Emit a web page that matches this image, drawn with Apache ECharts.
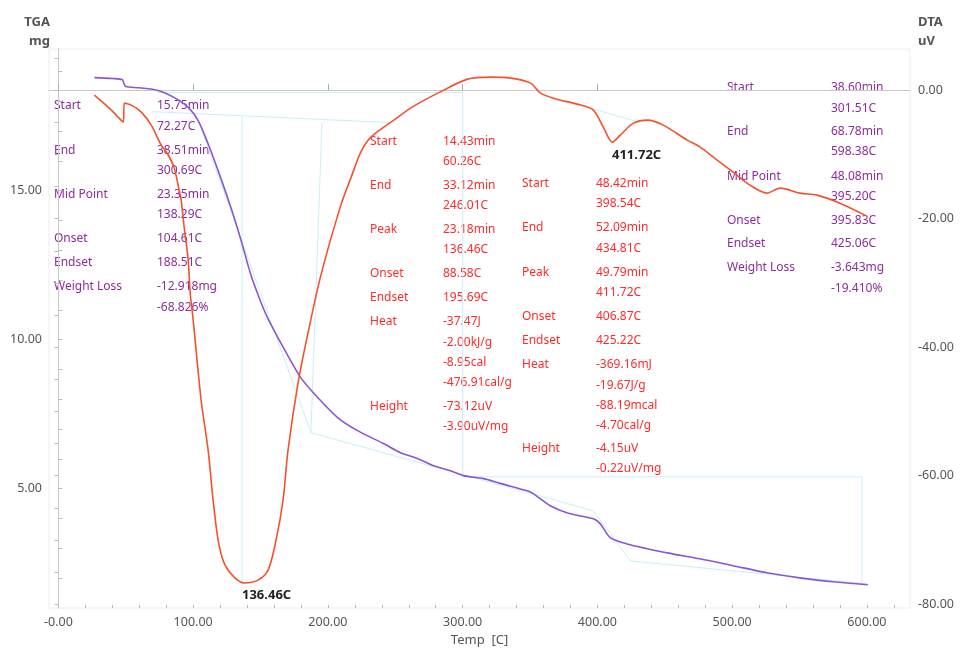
<!DOCTYPE html>
<html>
<head>
<meta charset="utf-8">
<title>TGA / DTA</title>
<script src="https://cdn.jsdelivr.net/npm/echarts@6/dist/echarts.min.js"></script>
<style>
  html, body { margin: 0; padding: 0; background: #fff; }
  #box { width: 961px; height: 650px; }
</style>
</head>
<body>
<div id="box"></div>
<script>
// TGA 曲线 (温度 C, 质量 mg)
const tgaTemp = [26.7, 40, 47.5, 48.5, 50, 60, 74, 86, 96.3, 103.7, 111, 118.5, 128, 135.6, 143, 150.4, 155.6, 167.4, 180, 192.6, 207.4, 222, 241.5, 254, 266.7, 278.5, 291, 300.7, 315.6, 328, 348, 352.6, 365, 377.8, 397, 402, 409.6, 422, 451.9, 476, 500.7, 526, 550, 574.8, 600.7];
const tgaMass = [18.79, 18.76, 18.72, 18.6, 18.49, 18.45, 18.36, 18.12, 17.79, 17.35, 16.58, 15.67, 14.43, 13.32, 12.15, 11.24, 10.7, 9.7, 8.72, 8.05, 7.38, 6.95, 6.51, 6.21, 6.01, 5.77, 5.6, 5.44, 5.34, 5.18, 4.93, 4.83, 4.43, 4.19, 3.99, 3.83, 3.36, 3.15, 2.85, 2.65, 2.42, 2.18, 2.01, 1.88, 1.78];

// DTA 曲线 (温度 C, 信号 uV)
const dtaTemp = [26.7, 39.3, 48.1, 48.9, 54.1, 61.5, 68.9, 76.3, 81.5, 85.9, 89.6, 91.1, 93.3, 96.3, 97.8, 100, 105.9, 111.1, 114.8, 118.5, 123, 130.4, 137.8, 148.1, 155.6, 161.5, 166.7, 170.4, 177.8, 185.2, 194.8, 209.6, 217, 224.4, 231.9, 248.9, 263.7, 285.9, 303.7, 320.7, 335.6, 350.4, 357.8, 367.4, 387.4, 397, 404.4, 411.1, 417, 426.7, 437, 448.9, 466.7, 476.3, 488.9, 500.7, 513.3, 525.9, 535.6, 550.4, 563, 580, 600];
const dtaSignal = [-0.78, -3.11, -4.98, -2.02, -2.33, -3.42, -5.45, -8.56, -10.1, -12.1, -15.6, -17.12, -21.32, -26.46, -31.6, -35.8, -48.25, -56.03, -63.81, -70.04, -73.62, -75.8, -76.7, -76.26, -74.71, -70.04, -63.81, -56.03, -45.6, -37.82, -28.8, -17.9, -13.7, -9.65, -7.32, -4.67, -2.49, 0, 1.71, 2.02, 1.87, 1.09, -0.47, -1.25, -2.33, -3.11, -5.76, -8.09, -7.0, -5.14, -4.67, -5.45, -7.78, -8.87, -10.9, -12.76, -14.79, -16.03, -15.25, -16.03, -16.34, -17.59, -19.61];

// 辅助线 (温度 C, 质量 mg)
const guideLines = [
  [[72.6, 18.29], [300, 18.29], [300, 5.4], [596.3, 5.4], [596.3, 1.81]],
  [[68.9, 17.65], [246.7, 17.28]],
  [[136.3, 17.48], [136.3, 1.81]],
  [[195.6, 17.28], [187.4, 6.88]],
  [[102.2, 17.55], [187.4, 6.88], [397, 4.26], [424.4, 2.58], [600, 1.81]],
  [[396.3, 17.75], [431.9, 17.28]]
];

// 刻度
const xMajorTicks = [0, 100, 200, 300, 400, 500, 600];
const xTickLabels = ['-0.00', '100.00', '200.00', '300.00', '400.00', '500.00', '600.00'];
const xMinorTicks = [0, 20, 40, 60, 80, 100, 120, 140, 160, 180, 200, 220, 240, 260, 280, 300, 320, 340, 360, 380, 400, 420, 440, 460, 480, 500, 520, 540, 560, 580, 600, 620];
const leftMajorTicks = [5, 10, 15];
const leftTickLabels = ['5.00', '10.00', '15.00'];
const leftMinorTicks = [2, 3, 4, 5, 6, 7, 8, 9, 10, 11, 12, 13, 14, 15, 16, 17, 18, 19];
const rightMajorTicks = [0, -20, -40, -60, -80];
const rightTickLabels = ['0.00', '-20.00', '-40.00', '-60.00', '-80.00'];
const rightMinorTicks = [5, 0, -5, -10, -15, -20, -25, -30, -35, -40, -45, -50, -55, -60, -65, -70, -75, -80];

// 轴标题
const leftAxisTitle = ['TGA', 'mg'];
const rightAxisTitle = ['DTA', 'uV'];
const xAxisTitle = 'Temp  [C]';

// 分析结果文字
const tgaStep1 = [['Start', '15.75min'], ['', '72.27C'], ['End', '38.51min'], ['', '300.69C'], ['Mid Point', '23.35min'], ['', '138.29C'], ['Onset', '104.61C'], ['Endset', '188.51C'], ['Weight Loss', '-12.918mg'], ['', '-68.826%']];
const tgaStep2 = [['Start', '38.60min'], ['', '301.51C'], ['End', '68.78min'], ['', '598.38C'], ['Mid Point', '48.08min'], ['', '395.20C'], ['Onset', '395.83C'], ['Endset', '425.06C'], ['Weight Loss', '-3.643mg'], ['', '-19.410%']];
const dtaPeak1 = [['Start', '14.43min'], ['', '60.26C'], ['End', '33.12min'], ['', '246.01C'], ['Peak', '23.18min'], ['', '136.46C'], ['Onset', '88.58C'], ['Endset', '195.69C'], ['Heat', '-37.47J'], ['', '-2.00kJ/g'], ['', '-8.95cal'], ['', '-476.91cal/g'], ['Height', '-73.12uV'], ['', '-3.90uV/mg']];
const dtaPeak2 = [['Start', '48.42min'], ['', '398.54C'], ['End', '52.09min'], ['', '434.81C'], ['Peak', '49.79min'], ['', '411.72C'], ['Onset', '406.87C'], ['Endset', '425.22C'], ['Heat', '-369.16mJ'], ['', '-19.67J/g'], ['', '-88.19mcal'], ['', '-4.70cal/g'], ['Height', '-4.15uV'], ['', '-0.22uV/mg']];
const peakLabels = ['136.46C', '411.72C'];

const FONT = '"Noto Sans", "DejaVu Sans", sans-serif';
const PURPLE_TEXT = '#8e2c9e';
const RED_TEXT = '#ff2b2b';

function zip(a, b) {
  return a.map((v, i) => [v, b[i]]);
}

function tickLabel(ticks, labels) {
  return function (v) {
    const i = ticks.findIndex(t => Math.abs(t - v) < 1e-6);
    return i >= 0 ? labels[i] : '';
  };
}

function txt(t, x, y, fill, font, align) {
  return {
    type: 'text', x: x, y: y, silent: true,
    style: { text: t, fill: fill, font: font, align: align || 'left', verticalAlign: 'middle' }
  };
}

// 文字块
function textBlock(rows, ys, xLabel, xValue, color) {
  const out = [];
  rows.forEach((r, i) => {
    if (r[0]) out.push(txt(r[0], xLabel, ys[i], color, '12px ' + FONT));
    if (r[1]) out.push(txt(r[1], xValue, ys[i], color, '12px ' + FONT));
  });
  return out;
}

function drawCharts() {
  const myCharts = echarts.init(document.getElementById('box'));

  const axisLineStyle = { color: '#c8c8c8', width: 1 };
  const labelStyle = { color: '#555', fontSize: 12.5, fontFamily: FONT };
  const titleFont = 'bold 13px ' + FONT;

  const guideSeries = guideLines.map(seg => ({
    type: 'line', xAxisIndex: 0, yAxisIndex: 0, data: seg,
    symbol: 'none', silent: true, z: 1,
    lineStyle: { color: '#c9eff7', width: 1 }
  }));

  const graphic = [
    txt(leftAxisTitle[0], 50, 22, '#555', titleFont, 'right'),
    txt(leftAxisTitle[1], 50, 41, '#555', titleFont, 'right'),
    txt(rightAxisTitle[0], 918, 22, '#555', titleFont, 'left'),
    txt(rightAxisTitle[1], 918, 41, '#555', titleFont, 'left'),
    txt(peakLabels[0], 242, 595, '#222', 'bold 13px ' + FONT),
    txt(peakLabels[1], 612, 155, '#222', 'bold 13px ' + FONT)
  ]
    .concat(textBlock(tgaStep1, [106, 127, 151, 171, 195, 215, 239, 263, 287, 308], 54, 157, PURPLE_TEXT))
    .concat(textBlock(tgaStep2, [88, 109, 132, 152, 177, 197, 221, 244, 268, 289], 727, 831, PURPLE_TEXT))
    .concat(textBlock(dtaPeak1, [142, 162, 186, 206, 230, 250, 274, 298, 322, 343, 363, 383, 407, 427], 370, 443, RED_TEXT))
    .concat(textBlock(dtaPeak2, [184, 204, 228, 249, 273, 293, 317, 341, 365, 386, 406, 426, 449, 469], 522, 596, RED_TEXT));

  const option = {
    backgroundColor: '#fff',
    animation: false,
    textStyle: { fontFamily: FONT },
    grid: {
      left: 49, right: 51, top: 49, bottom: 42,
      containLabel: false, outerBoundsMode: 'none',
      show: true, borderColor: '#ececec', borderWidth: 1
    },
    xAxis: [
      {
        type: 'value', min: -7, max: 632, position: 'bottom',
        name: xAxisTitle, nameLocation: 'middle', nameGap: 26,
        nameTextStyle: { color: '#555', fontSize: 13 },
        axisLine: { lineStyle: axisLineStyle },
        axisTick: { inside: true, length: 6, customValues: xMajorTicks, lineStyle: { color: '#aaa' } },
        axisLabel: { customValues: xMajorTicks, formatter: tickLabel(xMajorTicks, xTickLabels), margin: 8, ...labelStyle },
        splitLine: { show: false }
      },
      {
        type: 'value', min: -7, max: 632, position: 'bottom',
        axisLine: { show: false },
        axisTick: { inside: true, length: 3, customValues: xMinorTicks, lineStyle: { color: '#bbb' } },
        axisLabel: { show: false },
        splitLine: { show: false }
      }
    ],
    yAxis: [
      {
        type: 'value', min: 1, max: 19.75, position: 'left',
        axisLine: { show: true, lineStyle: axisLineStyle },
        axisTick: { inside: true, length: 4, customValues: leftMinorTicks, lineStyle: { color: '#bbb' } },
        axisLabel: { customValues: leftMajorTicks, formatter: tickLabel(leftMajorTicks, leftTickLabels), margin: 7, ...labelStyle },
        splitLine: { show: false }
      },
      {
        type: 'value', min: -80.6, max: 6.4, position: 'right',
        axisLine: { show: true, lineStyle: axisLineStyle },
        axisTick: { inside: true, length: 4, customValues: rightMinorTicks, lineStyle: { color: '#bbb' } },
        axisLabel: { customValues: rightMajorTicks, formatter: tickLabel(rightMajorTicks, rightTickLabels), margin: 8, ...labelStyle },
        splitLine: { show: false }
      }
    ],
    series: guideSeries.concat([
      {
        name: 'TGA', type: 'line', xAxisIndex: 0, yAxisIndex: 0,
        data: zip(tgaTemp, tgaMass), symbol: 'none', smooth: 0.3, z: 3,
        lineStyle: { color: '#8a55d6', width: 1.6 }
      },
      {
        name: 'DTA', type: 'line', xAxisIndex: 0, yAxisIndex: 1,
        data: zip(dtaTemp, dtaSignal), symbol: 'none', smooth: 0.3, z: 4,
        lineStyle: { color: '#f5522c', width: 1.6 }
      }
    ]),
    graphic: graphic
  };

  myCharts.setOption(option);
}

drawCharts();
</script>
</body>
</html>
